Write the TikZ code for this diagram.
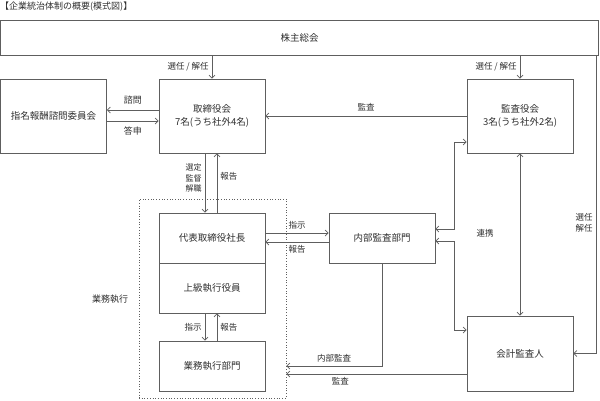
\documentclass[tikz,border=0pt]{standalone}
\usepackage{fontspec}
\setmainfont{Noto Sans CJK JP}
\usetikzlibrary{arrows.meta}
\definecolor{linegray}{HTML}{5E5E5E}
\definecolor{textgray}{HTML}{2E2E2E}
\tikzset{
  box/.style={draw=linegray, line width=0.7pt, minimum width=106pt, minimum height=74pt,
    inner sep=0pt, align=center, text=textgray, font=\fontsize{9.5}{13}\selectfont},
  lbl/.style={text=textgray, font=\fontsize{8.5}{11}\selectfont, inner sep=3pt},
  arr/.style={draw=linegray, line width=0.7pt, -{Straight Barb[length=3pt,width=6pt]}},
  darr/.style={draw=linegray, line width=0.7pt, {Straight Barb[length=3pt,width=6pt]}-{Straight Barb[length=3pt,width=6pt]}},
}
\begin{document}
\begin{tikzpicture}[x=1pt,y=-1pt]
\useasboundingbox (0,0) rectangle (600,400);
% title
\node[anchor=west, text=textgray, font=\fontsize{9}{11}\selectfont, inner sep=0pt] (title) at (0,7) {【企業統治体制の概要(模式図)】};
% boxes
\node[box, minimum width=598pt, minimum height=35pt] (soukai) at (299.5,37.5) {株主総会};
\node[box] (shimei) at (53.5,116) {指名報酬諮問委員会};
\node[box] (torishimari) at (212,116) {取締役会\\7名(うち社外4名)};
\node[box] (kansayaku) at (520,116) {監査役会\\3名(うち社外2名)};
\node[draw=linegray, dotted, line width=0.7pt, minimum width=147pt, minimum height=199pt, inner sep=0pt] (shikko) at (212.5,298.5) {};
\node[lbl, font=\fontsize{9}{11}\selectfont] (shikkolbl) at (110,299) {業務執行};
\node[box, minimum height=50pt] (daihyo) at (212,238) {代表取締役社長};
\node[box, minimum height=50pt] (joukyu) at (212,288) {上級執行役員};
\node[box, minimum height=50pt] (gyoumu) at (212,366) {業務執行部門};
\node[box, minimum height=50pt] (naibu) at (382,238) {内部監査部門};
\node[box, minimum height=75pt] (kaikei) at (520,353.5) {会計監査人};
\coordinate (rk) at (454,0);
\coordinate (rr) at (596,0);
% shareholders
\draw[arr] (torishimari.north |- soukai.south) -- (torishimari.north) node[lbl, midway, left] {選任 / 解任};
\draw[arr] (kansayaku.north |- soukai.south) -- (kansayaku.north) node[lbl, midway, left] {選任 / 解任};
\draw[arr] (soukai.south -| rr) |- (kaikei.east) node[lbl, pos=0.28, left, align=center] {選任\\解任};
% board and committee
\draw[arr] ([yshift=6pt]torishimari.west) -- ([yshift=6pt]shimei.east) node[lbl, midway, above, font=\fontsize{9}{10}\selectfont, yshift=2pt] {諮問};
\draw[arr] ([yshift=-5pt]shimei.east) -- ([yshift=-5pt]torishimari.west) node[lbl, midway, below, font=\fontsize{9}{10}\selectfont, yshift=-2pt] {答申};
\draw[arr] (kansayaku.west) -- (torishimari.east) node[lbl, midway, above, yshift=2pt] {監査};
% board and president
\draw[arr] ([xshift=-7pt]torishimari.south) -- ([xshift=-7pt]daihyo.north) node[lbl, pos=0.42, left, align=center, font=\fontsize{8}{10.5}\selectfont] {選定\\監督\\解職};
\draw[arr] ([xshift=5pt]daihyo.north) -- ([xshift=5pt]torishimari.south) node[lbl, pos=0.62, right] {報告};
% president and internal audit
\draw[arr] ([yshift=5pt]daihyo.east) -- ([yshift=5pt]naibu.west) node[lbl, midway, above] {指示};
\draw[arr] ([yshift=-4pt]naibu.west) -- ([yshift=-4pt]daihyo.east) node[lbl, midway, below] {報告};
% executives and divisions
\draw[arr] ([xshift=-7pt]joukyu.south) -- ([xshift=-7pt]gyoumu.north) node[lbl, midway, left] {指示};
\draw[arr] ([xshift=5pt]gyoumu.north) -- ([xshift=5pt]joukyu.south) node[lbl, midway, right] {報告};
% cooperation
\draw[darr] ([yshift=9pt]naibu.east) -- ([yshift=9pt]naibu.east -| rk) -- ([yshift=-26pt]kansayaku.west -| rk) -- ([yshift=-26pt]kansayaku.west);
\draw[darr] ([yshift=-3pt]naibu.east) -- ([yshift=-3pt]naibu.east -| rk) -- ([yshift=23.5pt]kaikei.west -| rk) -- ([yshift=23.5pt]kaikei.west);
\draw[darr] (kansayaku.south) -- (kaikei.north);
\node[lbl] (renkei) at (485,233) {連携};
% audits of execution
\draw[arr] (naibu.south) |- ([yshift=-67.5pt]shikko.east) node[lbl, pos=0.75, above] {内部監査};
\draw[arr] ([yshift=-20.5pt]kaikei.west) -- ([yshift=-75.5pt]shikko.east) node[lbl, pos=0.7, below] {監査};
\end{tikzpicture}
\end{document}
